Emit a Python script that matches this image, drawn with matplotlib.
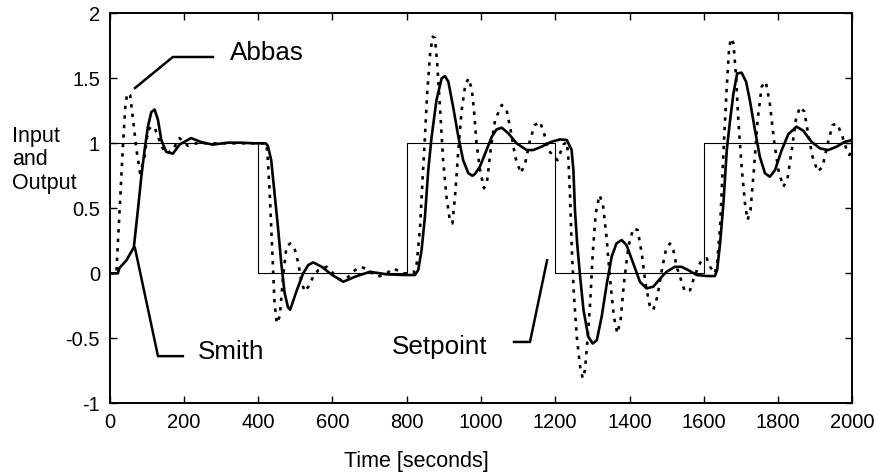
import matplotlib
matplotlib.use("Agg")
import matplotlib.pyplot as plt

plt.rcParams['font.family'] = ['Liberation Sans', 'DejaVu Sans']
plt.rcParams['axes.unicode_minus'] = False

# Setpoint (step input)
setpoint_t = [0, 400, 800, 1200, 1600, 2000]
setpoint_v = [1, 0, 1, 0, 1, 1]

# Smith predictor response (solid)
smith_t = [0, 22, 26, 45, 65, 76, 85, 94, 103, 112, 121, 130, 139, 152, 170, 188, 219, 246,
           277, 318, 353, 390, 420, 426, 435, 444, 453, 462, 471, 480, 486, 504, 521, 535,
           548, 571, 598, 629, 661, 701, 746, 791, 822, 831, 840, 849, 858, 867, 880, 894,
           903, 912, 925, 939, 952, 966, 977, 984, 997, 1011, 1029, 1042, 1056, 1074, 1096,
           1123, 1141, 1163, 1190, 1213, 1231, 1244, 1249, 1253, 1259, 1267, 1276, 1289,
           1301, 1312, 1325, 1339, 1352, 1365, 1379, 1392, 1410, 1428, 1446, 1464, 1487,
           1500, 1522, 1540, 1558, 1581, 1608, 1630, 1636, 1644, 1653, 1662, 1671, 1680,
           1690, 1702, 1714, 1724, 1738, 1751, 1765, 1778, 1792, 1810, 1828, 1850, 1868,
           1890, 1913, 1935, 1958, 1980, 2000]
smith_v = [0, 0, 0.04, 0.1, 0.2, 0.49, 0.74, 0.95, 1.13, 1.24, 1.26, 1.18, 1.025, 0.935,
           0.92, 0.99, 1.04, 1.01, 0.99, 1.005, 1.005, 1.0, 1.0, 0.98, 0.87, 0.615, 0.36,
           0.08, -0.15, -0.26, -0.28, -0.13, 0.0, 0.064, 0.084, 0.05, -0.01, -0.065, -0.026,
           0.012, -0.008, -0.013, -0.013, 0.025, 0.18, 0.435, 0.794, 1.05, 1.33, 1.50, 1.517,
           1.474, 1.28, 1.05, 0.87, 0.77, 0.75, 0.765, 0.82, 0.92, 1.05, 1.107, 1.12, 1.076,
           1.0, 0.948, 0.948, 0.974, 1.012, 1.03, 1.025, 0.95, 0.79, 0.49, 0.23, -0.026,
           -0.28, -0.488, -0.54, -0.514, -0.334, -0.077, 0.128, 0.23, 0.256, 0.217, 0.077,
           -0.065, -0.116, -0.103, -0.026, 0.012, 0.05, 0.05, 0.025, -0.013, -0.021, -0.021,
           0.025, 0.23, 0.54, 0.948, 1.18, 1.384, 1.538, 1.543, 1.474, 1.333, 1.10, 0.897,
           0.769, 0.743, 0.794, 0.948, 1.071, 1.128, 1.097, 1.012, 0.961, 0.948, 0.974,
           1.012, 1.025]

# Abbas controller response (dotted)
abbas_t = [0, 18, 22, 29, 36, 42, 47, 55, 63, 72, 82, 94, 103, 112, 121, 130, 141, 152,
           170, 188, 211, 233, 300, 400, 422, 426, 431, 435, 440, 444, 450, 458, 467, 476,
           486, 499, 508, 517, 526, 535, 548, 562, 584, 602, 620, 638, 661, 679, 701, 723,
           746, 764, 791, 818, 827, 836, 843, 849, 855, 863, 870, 876, 882, 890, 898, 907,
           916, 923, 930, 939, 948, 957, 966, 975, 981, 988, 997, 1008, 1017, 1026, 1038,
           1056, 1069, 1080, 1092, 1107, 1119, 1132, 1145, 1159, 1170, 1181, 1193, 1206,
           1222, 1231, 1235, 1240, 1244, 1250, 1258, 1267, 1274, 1280, 1286, 1294, 1301,
           1309, 1319, 1328, 1338, 1347, 1358, 1367, 1376, 1385, 1397, 1410, 1422, 1433,
           1443, 1455, 1464, 1475, 1487, 1498, 1509, 1518, 1527, 1536, 1549, 1563, 1572,
           1585, 1594, 1608, 1617, 1630, 1636, 1644, 1650, 1655, 1662, 1668, 1673, 1680,
           1687, 1693, 1702, 1711, 1718, 1726, 1735, 1745, 1756, 1767, 1778, 1789, 1801,
           1814, 1825, 1837, 1848, 1859, 1871, 1881, 1893, 1907, 1920, 1934, 1947, 1958,
           1971, 1982, 1992, 2000]
abbas_v = [0, 0, 0.23, 0.615, 1.0, 1.28, 1.384, 1.37, 1.18, 0.95, 0.77, 0.9, 1.1, 1.13,
           1.12, 1.05, 0.97, 0.92, 0.95, 1.04, 0.98, 1.0, 1.0, 1.0, 1.0, 0.87, 0.615, 0.36,
           0.025, -0.23, -0.385, -0.33, -0.026, 0.205, 0.23, 0.18, 0.077, -0.077, -0.14,
           -0.103, -0.026, 0.025, 0.05, 0.0, -0.05, -0.04, 0.025, 0.05, 0.012, -0.026, 0.0,
           0.038, 0.0, 0.0, 0.077, 0.36, 0.743, 1.05, 1.384, 1.69, 1.82, 1.81, 1.615, 1.256,
           0.87, 0.59, 0.41, 0.384, 0.59, 0.948, 1.256, 1.436, 1.5, 1.42, 1.26, 1.0, 0.8,
           0.654, 0.72, 0.95, 1.18, 1.295, 1.256, 1.1, 0.897, 0.77, 0.846, 1.025, 1.14,
           1.166, 1.076, 0.948, 0.91, 0.87, 0.99, 1.01, 0.9, 0.59, 0.23, -0.154, -0.488,
           -0.72, -0.808, -0.744, -0.54, -0.23, 0.153, 0.46, 0.602, 0.538, 0.282, -0.026,
           -0.334, -0.462, -0.36, -0.077, 0.205, 0.345, 0.333, 0.153, -0.077, -0.257, -0.283,
           -0.18, 0.025, 0.18, 0.23, 0.18, 0.05, -0.026, -0.14, -0.13, -0.05, 0.05, 0.1,
           0.115, 0.05, 0.0, 0.077, 0.36, 0.743, 1.05, 1.435, 1.717, 1.807, 1.77, 1.512,
           1.18, 0.82, 0.538, 0.41, 0.487, 0.795, 1.18, 1.436, 1.474, 1.307, 1.025, 0.795,
           0.666, 0.717, 0.948, 1.18, 1.28, 1.243, 1.076, 0.897, 0.782, 0.82, 1.0, 1.14,
           1.153, 1.076, 0.974, 0.91, 0.94]

x_ticks = [0, 200, 400, 600, 800, 1000, 1200, 1400, 1600, 1800, 2000]
y_ticks = [-1, -0.5, 0, 0.5, 1, 1.5, 2]
y_tick_labels = ["-1", "-0.5", "0", "0.5", "1", "1.5", "2"]

fig = plt.figure(figsize=(8.77, 4.75), dpi=100)
ax = fig.add_axes([0.1251, 0.1509, 0.8467, 0.8211])

ax.plot(setpoint_t, setpoint_v, drawstyle='steps-post', color='black', lw=0.8)
ax.plot(abbas_t, abbas_v, color='black', lw=1.9, linestyle=(0, (1.3, 2.3)))
ax.plot(smith_t, smith_v, color='black', lw=1.9, solid_joinstyle='round')

ax.set_xlim(0, 2000)
ax.set_ylim(-1, 2)
ax.set_xticks(x_ticks)
ax.set_xticklabels([str(v) for v in x_ticks])
ax.set_yticks(y_ticks)
ax.set_yticklabels(y_tick_labels)
ax.tick_params(direction='in', length=5, width=1.0, top=True, right=True,
               labelsize=14.5, pad=7)
for s in ax.spines.values():
    s.set_linewidth(1.4)

# annotations (leader lines in data coordinates)
ax.plot([68, 170, 278], [1.425, 1.664, 1.664], color='black', lw=1.8, clip_on=False)
ax.text(324, 1.695, "Abbas", fontsize=18.7, va='center', ha='left')
ax.plot([68, 130, 197], [0.195, -0.637, -0.637], color='black', lw=1.8, clip_on=False)
ax.text(238, -0.605, "Smith", fontsize=18.7, va='center', ha='left')
ax.plot([1178, 1132, 1089], [0.10, -0.528, -0.528], color='black', lw=1.8, clip_on=False)
ax.text(1018, -0.57, "Setpoint", fontsize=18.7, va='center', ha='right')

fig.text(12 / 877, 1 - 160 / 475, "Input\nand\nOutput", fontsize=15.5, ha='left',
         va='center', linespacing=1.15)
fig.text(416 / 877, 1 - 462 / 475, "Time [seconds]", fontsize=15.5, ha='center',
         va='center')

fig.savefig("out.png", dpi=100)
